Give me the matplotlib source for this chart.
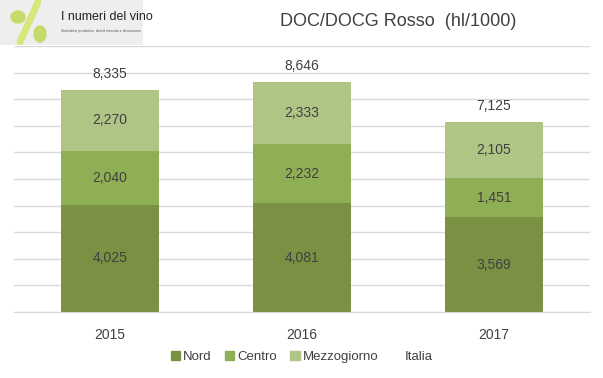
import matplotlib.pyplot as plt
from matplotlib.patches import Rectangle, Ellipse, Patch
import numpy as np

years = ["2015", "2016", "2017"]
nord = [4025, 4081, 3569]
centro = [2040, 2232, 1451]
mezzogiorno = [2270, 2333, 2105]
italia = [8335, 8646, 7125]

c_nord = "#7A9143"
c_centro = "#8FAF55"
c_mezz = "#AEC586"
txt = "#404040"

plt.rcParams['font.family'] = ['Liberation Sans', 'DejaVu Sans']

fig = plt.figure(figsize=(6.03, 3.78), dpi=100)
ax = fig.add_axes([14/603, 1-312/378, 576/603, 266/378])

x = np.arange(len(years))
w = 0.51
ax.bar(x, nord, w, color=c_nord, label="Nord", zorder=2)
ax.bar(x, centro, w, bottom=nord, color=c_centro, label="Centro", zorder=2)
bot3 = np.array(nord) + np.array(centro)
ax.bar(x, mezzogiorno, w, bottom=bot3, color=c_mezz, label="Mezzogiorno", zorder=2)

for i in range(len(years)):
    ax.text(x[i], nord[i]/2, f"{nord[i]:,}", ha='center', va='center', fontsize=10, color=txt)
    ax.text(x[i], nord[i] + centro[i]/2, f"{centro[i]:,}", ha='center', va='center', fontsize=10, color=txt)
    ax.text(x[i], bot3[i] + mezzogiorno[i]/2, f"{mezzogiorno[i]:,}", ha='center', va='center', fontsize=10, color=txt)
    ax.text(x[i], italia[i] + 620, f"{italia[i]:,}", ha='center', va='center', fontsize=10, color=txt)

ax.set_xlim(-0.5, 2.5)
ax.set_ylim(0, 10000)
ax.set_yticks(np.arange(0, 10001, 1000))
ax.yaxis.grid(True, color="#D9D9D9", linewidth=1, zorder=0)
ax.set_axisbelow(True)
ax.tick_params(axis='y', left=False, labelleft=False)
ax.tick_params(axis='x', bottom=False, labelsize=10, colors=txt, pad=8)
ax.set_xticks(x)
ax.set_xticklabels(years)
for s in ['left', 'right', 'top']:
    ax.spines[s].set_visible(False)
ax.spines['bottom'].set_color("#D9D9D9")

handles = [Patch(color=c_nord), Patch(color=c_centro), Patch(color=c_mezz), Patch(color='none')]
fig.legend(handles, ["Nord", "Centro", "Mezzogiorno", "Italia"], loc='center',
           bbox_to_anchor=(0.5, 1-357/378), ncol=4, frameon=False, fontsize=9.5,
           handlelength=0.7, handleheight=0.7, handletextpad=0.25, columnspacing=1.0,
           labelcolor=txt)

fig.text(398/603, 1-22/378, "DOC/DOCG Rosso  (hl/1000)", ha='center', va='center',
         fontsize=13, color=txt,
         family=['Liberation Sans Narrow', 'Liberation Sans', 'DejaVu Sans'])

# logo approximation
lax = fig.add_axes([0, 1-45/378, 143/603, 45/378])
lax.set_xlim(0, 143)
lax.set_ylim(45, 0)
lax.axis('off')
lax.add_patch(Rectangle((0, 0), 143, 45, color="#EEEEEE"))
lax.add_patch(Ellipse((18, 17), 14, 12, color="#C5DB6A"))
lax.plot([20, 38], [42, 2], color="#D7E77A", linewidth=5, solid_capstyle='round')
lax.add_patch(Ellipse((40, 34), 12, 16, color="#C5DB6A"))
lax.text(61, 17, "I numeri del vino", fontsize=9, color="#222222", va='center',
         family=['Liberation Sans Narrow', 'Liberation Sans', 'DejaVu Sans'])
lax.text(61, 31, "Statistiche produttive, dati di mercato e di consumo", fontsize=2.5,
         color="#555555", va='center')

fig.savefig("out.png", dpi=100)
